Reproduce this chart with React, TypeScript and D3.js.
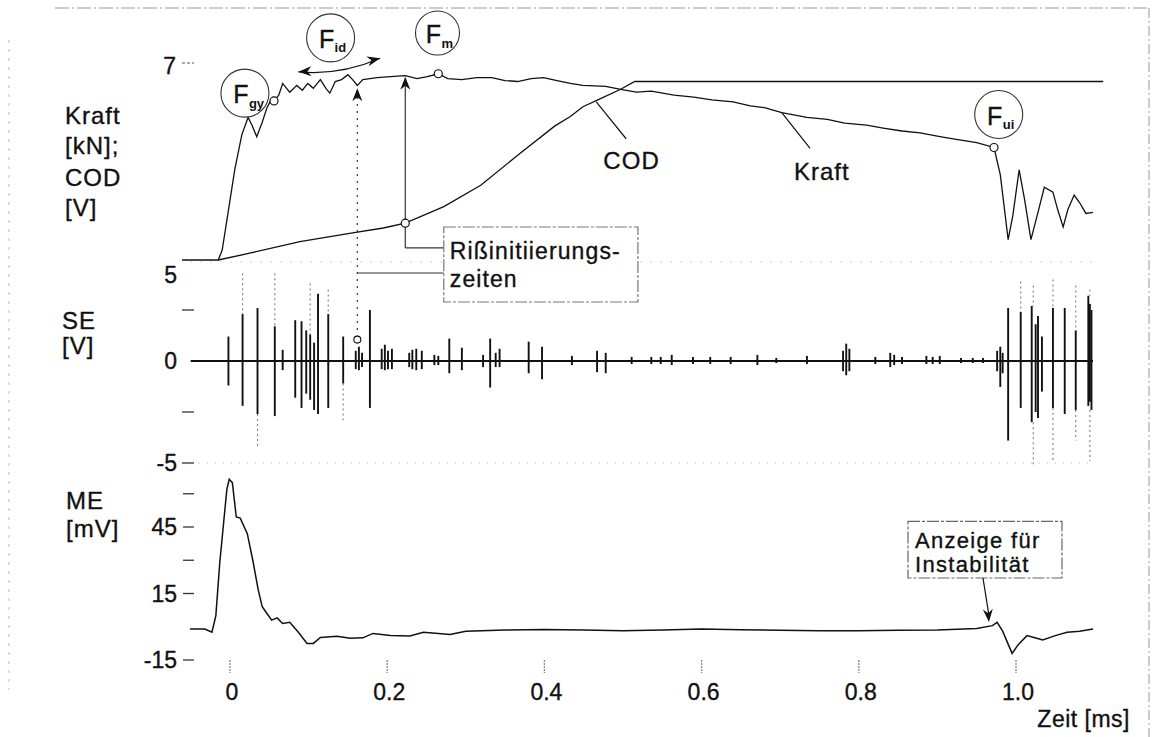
import React from "react";
import * as d3 from "d3";

// ---------- data ----------
// Kraft (force) trace [t in ms, value on top-panel scale]
const kraftT = [-0.061,-0.015,-0.010,-0.003,0.006,0.015,0.023,0.028,0.034,0.041,0.047,0.051,0.056,0.062,0.067,0.076,0.085,0.092,0.099,0.106,0.115,0.122,0.127,0.134,0.142,0.150,0.156,0.162,0.169,0.187,0.204,0.223,0.238,0.251,0.265,0.277,0.295,0.314,0.333,0.350,0.366,0.383,0.399,0.416,0.433,0.449,0.478,0.497,0.517,0.536,0.565,0.590,0.613,0.640,0.662,0.680,0.702,0.734,0.760,0.782,0.810,0.831,0.855,0.878,0.905,0.926,0.950,0.972,0.980,0.990,0.996,1.004,1.011,1.019,1.027,1.036,1.047,1.053,1.060,1.066,1.074,1.081,1.089,1.098];
const kraftV = [5.00,5.00,5.10,5.46,5.93,6.29,6.47,6.39,6.27,6.42,6.57,6.63,6.64,6.70,6.82,6.73,6.80,6.75,6.82,6.77,6.86,6.77,6.72,6.84,6.86,6.91,6.86,6.80,6.86,6.88,6.89,6.90,6.87,6.89,6.92,6.87,6.86,6.88,6.88,6.85,6.84,6.87,6.88,6.85,6.82,6.80,6.79,6.76,6.73,6.74,6.70,6.68,6.65,6.63,6.59,6.57,6.52,6.47,6.45,6.41,6.39,6.36,6.33,6.31,6.27,6.24,6.21,6.16,5.88,5.21,5.46,5.93,5.62,5.21,5.46,5.75,5.70,5.52,5.34,5.52,5.67,5.59,5.48,5.49];

// COD trace
const codT = [-0.015,0.025,0.089,0.156,0.195,0.223,0.272,0.319,0.366,0.413,0.433,0.449,0.468,0.497,0.515,1.111];
const codV = [5.00,5.07,5.19,5.28,5.33,5.38,5.55,5.77,6.08,6.38,6.48,6.58,6.65,6.76,6.84,6.84];

// ME trace [t, mV]
const meT = [-0.051,-0.032,-0.023,-0.018,-0.013,-0.004,-0.001,0.003,0.008,0.013,0.022,0.029,0.036,0.041,0.047,0.053,0.060,0.067,0.076,0.087,0.098,0.106,0.115,0.136,0.153,0.169,0.182,0.204,0.229,0.246,0.280,0.30,0.35,0.40,0.45,0.50,0.55,0.60,0.65,0.70,0.75,0.80,0.85,0.90,0.95,0.970,0.976,0.983,0.995,1.003,1.014,1.024,1.034,1.050,1.065,1.081,1.098];
const meV = [-1,-1,-2.5,5,29,62,66.5,65,49.5,49,42,30,16.5,9,6,3,4,1.5,2,-2.5,-7.5,-7.5,-4.8,-4.3,-5.2,-5,-3,-4,-4.2,-2.5,-3.5,-2,-1.5,-1.2,-1.5,-1.8,-1.5,-1.0,-1.3,-1.6,-1.8,-1.8,-1.6,-1.5,-0.8,0.5,2,-2,-12,-8,-4,-5,-6,-4,-2.5,-2,-1];

// SE bursts [t, positive peak, negative peak] in V
const seSpikes: number[][] = [
  [-0.002,1.2,-1.2],[0.016,2.3,-2.2],[0.035,2.6,-2.6],[0.057,1.7,-2.7],[0.067,0.55,-0.45],
  [0.083,2.0,-1.8],[0.091,1.95,-2.3],[0.097,1.5,-1.6],[0.102,1.3,-1.9],[0.107,0.9,-2.4],
  [0.112,3.3,-2.6],[0.125,2.3,-2.3],[0.144,1.2,-1.1],[0.160,0.5,-0.4],[0.164,0.7,-0.45],
  [0.168,0.4,-0.3],[0.178,2.5,-2.3],[0.193,0.6,-0.4],[0.197,0.8,-0.45],[0.201,0.5,-0.4],
  [0.206,0.6,-0.4],[0.228,0.4,-0.3],[0.232,0.55,-0.4],[0.237,0.6,-0.45],[0.244,0.5,-0.4],
  [0.260,0.3,-0.2],[0.265,0.25,-0.2],[0.279,1.1,-0.6],[0.295,0.65,-0.45],[0.322,0.3,-0.3],
  [0.331,1.1,-1.3],[0.338,0.4,-0.3],[0.343,0.6,-0.3],[0.380,0.95,-0.6],[0.397,0.7,-0.9],
  [0.435,0.25,-0.2],[0.467,0.5,-0.55],[0.478,0.4,-0.6],[0.511,0.2,-0.15],[0.536,0.2,-0.15],
  [0.548,0.2,-0.15],[0.562,0.3,-0.2],[0.589,0.2,-0.15],[0.611,0.2,-0.15],[0.637,0.2,-0.15],
  [0.671,0.3,-0.2],[0.695,0.15,-0.1],[0.734,0.25,-0.15],[0.780,0.5,-0.5],[0.784,0.85,-0.7],
  [0.788,0.6,-0.5],[0.821,0.2,-0.15],[0.840,0.4,-0.3],[0.845,0.3,-0.2],[0.855,0.2,-0.15],
  [0.886,0.25,-0.15],[0.894,0.2,-0.15],[0.903,0.25,-0.15],[0.930,0.15,-0.1],[0.945,0.15,-0.1],
  [0.958,0.15,-0.1],[0.976,0.5,-0.5],[0.980,0.7,-1.27],[0.983,0.4,-0.6],[0.990,2.6,-3.9],
  [1.006,2.4,-2.3],[1.020,2.7,-3.0],[1.025,1.8,-2.5],[1.028,2.2,-2.8],[1.033,1.2,-1.5],
  [1.047,2.6,-2.3],[1.062,2.6,-2.6],[1.076,1.5,-2.4],[1.092,3.2,-2.2],[1.094,2.8,-2.0],[1.096,2.5,-2.4],
];
// faint (scanned) continuations of SE spikes [t, from, to]
const seFaint: number[][] = [
  [0.016,4.3,2.3],[0.035,-2.6,-4.25],[0.057,4.3,1.7],[0.102,3.8,1.3],[0.125,3.5,2.3],[0.144,-1.1,-2.9],
  [1.006,3.9,2.4],[1.022,3.7,2.7],[1.022,-3.0,-5.2],[1.047,4.0,2.6],[1.047,-2.3,-4.9],
  [1.076,3.7,1.5],[1.076,-2.4,-3.9],[1.094,3.5,3.2],[1.094,-2.4,-4.9],
];

// ticks / labels
const xTicks = [0, 0.2, 0.4, 0.6, 0.8, 1.0];
const xTickLabels = ["0", "0.2", "0.4", "0.6", "0.8", "1.0"];
const seTickDashes = [2.5, -2.5, -5];
const seTickLabels = [[5, "5"], [0, "0"], [-5, "-5"]] as [number, string][];
const meTickDashes = [60, 45, 30, 15, -15];
const meTickLabels = [[45, "45"], [15, "15"], [-15, "-15"]] as [number, string][];

// characteristic points (t, kraft value)
const markerPts = [[0.056, 6.64], [0.265, 6.92], [0.972, 6.16]];
const circleLabels = [
  { t: 0.019, v: 6.72, sub: "gy", r: 24 },
  { t: 0.128, v: 7.29, sub: "id", r: 24 },
  { t: 0.264, v: 7.34, sub: "m", r: 22 },
  { t: 0.978, v: 6.50, sub: "ui", r: 24 },
];
const crackTimes = [0.162, 0.223];

export default function App() {
  const W = 1155, H = 737;
  const x = d3.scaleLinear().domain([0, 1]).range([230, 1016]);
  const yK = d3.scaleLinear().domain([5, 7]).range([260, 66]);
  const ySE = d3.scaleLinear().domain([-5, 5]).range([463, 259]);
  const yME = d3.scaleLinear().domain([-15, 45]).range([660, 527]);

  const lineK = d3.line<number>().x((_, i) => x(kraftT[i])).y((d) => yK(d));
  const lineC = d3.line<number>().x((_, i) => x(codT[i])).y((d) => yK(d));
  const lineM = d3.line<number>().x((_, i) => x(meT[i])).y((d) => yME(d));

  const font = "'Liberation Sans', Arial, sans-serif";
  const ink = "#111";
  const tfs = 24;
  const txt = { fill: ink, stroke: ink, strokeWidth: 0.35 };

  const arrowHead = (px: number, py: number, dir: "up" | "down", len = 13, w = 5) =>
    dir === "up"
      ? `M${px},${py} L${px - w},${py + len} L${px},${py + len - 4} L${px + w},${py + len} Z`
      : `M${px},${py} L${px - w},${py - len} L${px},${py - len + 4} L${px + w},${py - len} Z`;

  const xd = x(crackTimes[0]);
  const xs = x(crackTimes[1]);
  const boxL = x(0.272), boxR = x(0.519);

  // F_id double arrow
  const a1 = [x(0.087), yK(6.94)], a2 = [x(0.191), yK(7.08)];
  const ang1 = Math.atan2(a1[1] - yK(6.96), a1[0] - x(0.14));
  const ang2 = Math.atan2(a2[1] - yK(6.98), a2[0] - x(0.14));
  const head = (p: number[], ang: number) => {
    const L = 13, w = 5;
    const bx = p[0] - L * Math.cos(ang), by = p[1] - L * Math.sin(ang);
    const nx = -Math.sin(ang), ny = Math.cos(ang);
    return `M${p[0]},${p[1]} L${bx + nx * w},${by + ny * w} L${p[0] - (L - 4) * Math.cos(ang)},${p[1] - (L - 4) * Math.sin(ang)} L${bx - nx * w},${by - ny * w} Z`;
  };

  const meBoxL = x(0.8626), meBoxR = x(1.0585);
  const meBoxT = yME(47.5), meBoxB = yME(22);

  return (
    <svg width={W} height={H} style={{ position: "absolute", left: 0, top: 0, background: "#fff" }} fontFamily={font}>
      <rect x={0} y={0} width={W} height={H} fill="#fff" />
      {/* scan frame remnants */}
      <line x1={55} y1={8} x2={1150} y2={8} stroke="#999" strokeWidth={1.2} strokeDasharray="14 3 2 3" />
      <line x1={1149} y1={8} x2={1149} y2={737} stroke="#aaa" strokeWidth={1.2} strokeDasharray="10 3 2 3" />
      <line x1={9} y1={40} x2={9} y2={690} stroke="#bbb" strokeWidth={1} strokeDasharray="3 6" />
      {/* faint dotted level lines */}
      <line x1={x(-0.05)} y1={yK(4.98)} x2={x(1.1)} y2={yK(4.98)} stroke="#aaa" strokeWidth={1} strokeDasharray="1 9" />
      <line x1={x(-0.05)} y1={ySE(-5)} x2={x(1.1)} y2={ySE(-5)} stroke="#aaa" strokeWidth={1} strokeDasharray="1 7" />

      {/* Left titles */}
      <g fontSize={tfs} {...txt} letterSpacing={1} dominantBaseline="central">
        <text x={65} y={115}>Kraft</text>
        <text x={65} y={145}>[kN];</text>
        <text x={65} y={177}>COD</text>
        <text x={65} y={207}>[V]</text>
        <text x={62} y={320}>SE</text>
        <text x={62} y={345}>[V]</text>
        <text x={66} y={500}>ME</text>
        <text x={66} y={528}>[mV]</text>
      </g>

      {/* Top panel axis tick */}
      <text x={176} y={yK(7)} fontSize={23} textAnchor="end" dominantBaseline="central" {...txt}>7</text>
      <line x1={182} x2={194} y1={yK(7) - 3} y2={yK(7) - 3} stroke="#555" strokeWidth={1} strokeDasharray="3 2" />

      {/* SE axis */}
      {seTickDashes.map((v) => (
        <line key={"sd" + v} x1={182} x2={194} y1={ySE(v)} y2={ySE(v)} stroke="#333" strokeWidth={1.3} />
      ))}
      {seTickLabels.map(([v, s]) => (
        <text key={"sl" + s} x={177} y={v === 5 ? ySE(v) + 16 : ySE(v)} fontSize={23} textAnchor="end" dominantBaseline="central" {...txt}>{s}</text>
      ))}

      {/* ME axis */}
      {meTickDashes.map((v) => (
        <line key={"md" + v} x1={183} x2={194} y1={yME(v)} y2={yME(v)} stroke="#333" strokeWidth={1.3} />
      ))}
      {meTickLabels.map(([v, s]) => (
        <text key={"ml" + s} x={177} y={yME(v)} fontSize={23} textAnchor="end" dominantBaseline="central" {...txt}>{s}</text>
      ))}

      {/* X axis */}
      {xTicks.map((t, i) => (
        <g key={"xt" + i}>
          <line x1={x(t)} x2={x(t)} y1={660} y2={673} stroke="#888" strokeWidth={1.3} strokeDasharray="2 1" />
          <text x={x(t) + 2} y={692} fontSize={23} textAnchor="middle" dominantBaseline="central" {...txt}>{xTickLabels[i]}</text>
        </g>
      ))}
      <text x={1130} y={719} fontSize={23} textAnchor="end" dominantBaseline="central" {...txt} letterSpacing={0.5}>Zeit [ms]</text>

      {/* Kraft & COD */}
      <path d={lineC(codV) || ""} fill="none" stroke={ink} strokeWidth={1.3} />
      <path d={lineK(kraftV) || ""} fill="none" stroke={ink} strokeWidth={1.3} />

      {/* crack initiation arrows */}
      <line x1={xd} x2={xd} y1={yK(6.68)} y2={ySE(1.25)} stroke="#444" strokeWidth={1.3} strokeDasharray="2 5" />
      <path d={arrowHead(xd, yK(6.77), "up")} fill={ink} />
      <line x1={xs} x2={xs} y1={yK(6.8)} y2={yK(5.124)} stroke="#333" strokeWidth={1.2} />
      <path d={arrowHead(xs, yK(6.89), "up")} fill={ink} />
      <line x1={xs} x2={boxL} y1={yK(5.124)} y2={yK(5.124)} stroke="#333" strokeWidth={1.2} />
      <line x1={xd} x2={boxL} y1={yK(4.866)} y2={yK(4.866)} stroke="#333" strokeWidth={1.2} />
      <rect x={boxL} y={yK(5.34)} width={boxR - boxL} height={yK(4.567) - yK(5.34)} fill="#fff" stroke="#777" strokeWidth={1.2} strokeDasharray="12 2 3 2" />
      <text x={boxL + 6} y={yK(5.09)} fontSize={23} {...txt} letterSpacing={1.1} dominantBaseline="central">Rißinitiierungs-</text>
      <text x={boxL + 6} y={yK(4.80)} fontSize={23} {...txt} letterSpacing={1.1} dominantBaseline="central">zeiten</text>

      {/* COD / Kraft labels */}
      <line x1={x(0.466)} y1={yK(6.63)} x2={x(0.504)} y2={yK(6.25)} stroke={ink} strokeWidth={1.2} />
      <text x={x(0.511)} y={yK(6.03)} fontSize={24} textAnchor="middle" dominantBaseline="central" {...txt} letterSpacing={1.2}>COD</text>
      <line x1={x(0.702)} y1={yK(6.52)} x2={x(0.738)} y2={yK(6.15)} stroke={ink} strokeWidth={1.2} />
      <text x={x(0.753)} y={yK(5.91)} fontSize={24} textAnchor="middle" dominantBaseline="central" {...txt} letterSpacing={1}>Kraft</text>

      {/* F_id double arrow */}
      <path d={`M${a1[0]},${a1[1]} Q${x(0.14)},${yK(6.9)} ${a2[0]},${a2[1]}`} fill="none" stroke={ink} strokeWidth={1.3} />
      <path d={head(a1, ang1)} fill={ink} />
      <path d={head(a2, ang2)} fill={ink} />

      {/* characteristic circles */}
      {circleLabels.map((c) => (
        <g key={c.sub}>
          <circle cx={x(c.t)} cy={yK(c.v)} r={c.r} fill="#fff" stroke="#333" strokeWidth={1.1} />
          <text x={x(c.t) - 4} y={yK(c.v) + 1} fontSize={25} textAnchor="middle" dominantBaseline="central" {...txt}>F</text>
          <text x={x(c.t) + 4} y={yK(c.v) + 10} fontSize={13} fontWeight="bold" textAnchor="start" dominantBaseline="central" fill={ink}>{c.sub}</text>
        </g>
      ))}
      {markerPts.map(([t, v], i) => (
        <circle key={"mk" + i} cx={x(t)} cy={yK(v)} r={4} fill="#fff" stroke={ink} strokeWidth={1.2} />
      ))}
      <circle cx={x(0.223)} cy={yK(5.38)} r={4} fill="#fff" stroke={ink} strokeWidth={1.2} />

      {/* SE */}
      {seFaint.map(([t, a, b], i) => (
        <line key={"sf" + i} x1={x(t)} x2={x(t)} y1={ySE(a)} y2={ySE(b)} stroke="#888" strokeWidth={1.2} strokeDasharray="2 3" />
      ))}
      <line x1={x(-0.05)} x2={x(1.098)} y1={ySE(0)} y2={ySE(0)} stroke={ink} strokeWidth={2.2} />
      {seSpikes.map(([t, up, dn], i) => (
        <line key={"sp" + i} x1={x(t)} x2={x(t)} y1={ySE(up)} y2={ySE(dn)} stroke={ink} strokeWidth={1.9} />
      ))}
      <circle cx={x(0.162)} cy={ySE(1.05)} r={3.5} fill="#fff" stroke={ink} strokeWidth={1.1} />

      {/* ME */}
      <path d={lineM(meV) || ""} fill="none" stroke={ink} strokeWidth={1.5} />
      <rect x={meBoxL} y={meBoxT} width={meBoxR - meBoxL} height={meBoxB - meBoxT} fill="#fff" stroke="#666" strokeWidth={1.2} strokeDasharray="12 2 3 2" />
      <text x={meBoxL + 7} y={meBoxT + 19} fontSize={22} {...txt} letterSpacing={1.3} dominantBaseline="central">Anzeige für</text>
      <text x={meBoxL + 7} y={meBoxT + 43} fontSize={22} {...txt} letterSpacing={1.3} dominantBaseline="central">Instabilität</text>
      <line x1={x(0.958)} y1={meBoxB} x2={x(0.9656)} y2={yME(5)} stroke={ink} strokeWidth={1.2} />
      <path d={arrowHead(x(0.9656), yME(2.1), "down", 13, 5)} fill={ink} transform={`rotate(-5 ${x(0.9656)} ${yME(2.1)})`} />
    </svg>
  );
}
